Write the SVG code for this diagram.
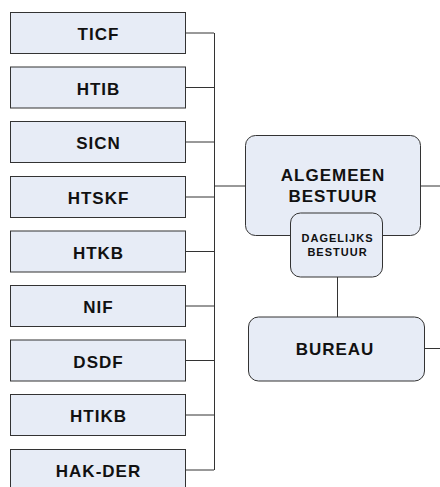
<svg xmlns="http://www.w3.org/2000/svg" width="440" height="487" viewBox="0 0 440 487">
<style>
.box{fill:#E7ECF6;stroke:#333;stroke-width:1}
.t{font-family:"Liberation Sans",Arial,sans-serif;font-weight:bold;font-size:17px;letter-spacing:1px;fill:#111;text-anchor:middle}
.s{font-size:11px;letter-spacing:1px}
.c{fill:none;stroke:#333;stroke-width:1}
</style>
<rect width="440" height="487" fill="#fff"/>
<g id="connectors" class="c">
<path d="M186 33H214M186 87.5H214M186 142H214M186 197H214M186 251.5H214M186 306H214M186 360.5H214M186 415H214M186 470H214"/>
<path d="M214.5 33V470"/>
<path d="M214 186H245"/>
<path d="M421 186H440"/>
<path d="M337.5 277V317"/>
<path d="M424 348.5H440"/>
</g>
<g id="ticf"><rect class="box" x="10.5" y="12.5" width="175" height="41"/><text class="t" x="98.5" y="40">TICF</text></g>
<g id="htib"><rect class="box" x="10.5" y="67" width="175" height="41"/><text class="t" x="98.5" y="94.5">HTIB</text></g>
<g id="sicn"><rect class="box" x="10.5" y="121.5" width="175" height="41"/><text class="t" x="98.5" y="149">SICN</text></g>
<g id="htskf"><rect class="box" x="10.5" y="176.5" width="175" height="41"/><text class="t" x="98.5" y="204">HTSKF</text></g>
<g id="htkb"><rect class="box" x="10.5" y="231" width="175" height="41"/><text class="t" x="98.5" y="258.5">HTKB</text></g>
<g id="nif"><rect class="box" x="10.5" y="285.5" width="175" height="41"/><text class="t" x="98.5" y="313">NIF</text></g>
<g id="dsdf"><rect class="box" x="10.5" y="340" width="175" height="41"/><text class="t" x="98.5" y="367.5">DSDF</text></g>
<g id="htikb"><rect class="box" x="10.5" y="394.5" width="175" height="41"/><text class="t" x="98.5" y="422">HTIKB</text></g>
<g id="hakder"><rect class="box" x="10.5" y="449.5" width="175" height="41"/><text class="t" x="98.5" y="477">HAK-DER</text></g>
<g id="algemeen"><rect class="box" x="245.5" y="135.5" width="175" height="100" rx="10"/><text class="t" x="333" y="180.5">ALGEMEEN</text><text class="t" x="333" y="202">BESTUUR</text></g>
<g id="dagelijks"><rect class="box" x="290.5" y="213" width="92" height="64" rx="10"/><text class="t s" x="337.5" y="241.5">DAGELIJKS</text><text class="t s" x="337.5" y="255.5">BESTUUR</text></g>
<g id="bureau"><rect class="box" x="248.5" y="317" width="176" height="64" rx="10"/><text class="t" x="335" y="355">BUREAU</text></g>
</svg>
